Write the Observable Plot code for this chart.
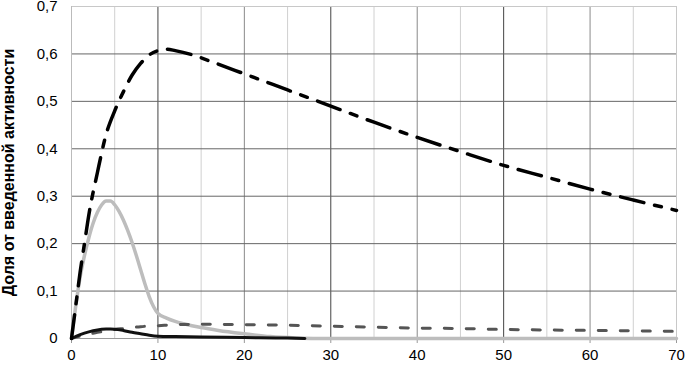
<!DOCTYPE html>
<html>
<head>
<meta charset="utf-8">
<script src="https://cdn.jsdelivr.net/npm/d3@7"></script>
<script src="https://cdn.jsdelivr.net/npm/@observablehq/plot@0.6"></script>
<style>
  html, body { margin: 0; padding: 0; background: #fff; }
  #chart svg { display: block; }
  g[aria-label="y-axis label"] text { font-weight: bold; font-size: 16px; }
</style>
</head>
<body>
<div id="chart"></div>
<script>
// Axis ticks
const xTicks = [0, 10, 20, 30, 40, 50, 60, 70];
const yTicks = [0, 0.1, 0.2, 0.3, 0.4, 0.5, 0.6, 0.7];
const xMinorGrid = [5, 15, 25, 35, 45, 55, 65];
const xGridDark = [10, 30, 50];
const xGridMid = [20, 40, 60];
const yGrid = [0.1, 0.2, 0.3, 0.4, 0.5, 0.6];
const yLabel = "Доля от введенной активности";

// Series: dash-dot black
const dashDotX = [0, 0.5, 1, 1.5, 2, 3, 4, 5, 6, 7, 8, 9, 10, 11, 12, 14, 16, 20, 25, 30, 35, 40, 45, 50, 55, 60, 65, 70];
const dashDotY = [0, 0.07, 0.14, 0.2, 0.26, 0.35, 0.43, 0.48, 0.52, 0.555, 0.58, 0.598, 0.607, 0.61, 0.607, 0.598, 0.585, 0.558, 0.524, 0.49, 0.456, 0.424, 0.394, 0.365, 0.34, 0.315, 0.292, 0.27];

// Series: light gray solid
const graySolidX = [0, 0.5, 1, 1.5, 2, 2.5, 3, 3.5, 4, 4.5, 5, 5.5, 6, 6.5, 7, 7.5, 8, 8.5, 9, 9.5, 10, 11, 12, 13, 15, 17, 20, 23, 26, 28, 70];
const graySolidY = [0, 0.07, 0.13, 0.175, 0.212, 0.243, 0.266, 0.282, 0.29, 0.29, 0.282, 0.268, 0.25, 0.228, 0.203, 0.175, 0.145, 0.115, 0.088, 0.067, 0.053, 0.043, 0.036, 0.031, 0.023, 0.017, 0.01, 0.004, 0.001, 0, 0];

// Series: black solid
const blackSolidX = [0, 1, 2, 3, 4, 4.5, 5, 6, 7, 8, 9, 10, 12, 15, 20, 25, 27];
const blackSolidY = [0, 0.008, 0.014, 0.018, 0.0198, 0.02, 0.0197, 0.017, 0.013, 0.01, 0.007, 0.005, 0.004, 0.003, 0.002, 0.001, 0];

// Series: dark gray dashed
const grayDashX = [0, 1, 2, 3, 4, 5, 6, 8, 10, 12, 15, 20, 25, 30, 35, 40, 45, 50, 55, 60, 65, 70];
const grayDashY = [0, 0.005, 0.009, 0.013, 0.016, 0.019, 0.021, 0.025, 0.027, 0.029, 0.03, 0.029, 0.028, 0.026, 0.024, 0.022, 0.021, 0.019, 0.018, 0.017, 0.016, 0.015];

const toRows = (xs, ys) => xs.map((x, i) => ({x, y: ys[i]}));
const fmt = d => String(Math.round(d * 10) / 10).replace(".", ",");

const chart = Plot.plot({
  width: 685,
  height: 368,
  marginLeft: 71,
  marginRight: 9,
  marginTop: 6,
  marginBottom: 30,
  style: {fontFamily: "'Liberation Sans', Arial, sans-serif", fontSize: "15px", color: "#000", background: "#fff"},
  x: {domain: [0, 70]},
  y: {domain: [0, 0.7]},
  marks: [
    Plot.ruleX(xMinorGrid, {stroke: "#d0d0d0", strokeWidth: 1}),
    Plot.ruleX(xGridMid, {stroke: "#8a8a8a", strokeWidth: 1}),
    Plot.ruleX(xGridDark, {stroke: "#444", strokeWidth: 1}),
    Plot.ruleX([70], {stroke: "#c8c8c8", strokeWidth: 1}),
    Plot.ruleY(yGrid, {stroke: "#666", strokeWidth: 1}),
    Plot.ruleY([0.7], {stroke: "#c8c8c8", strokeWidth: 1}),
    Plot.ruleX([0], {stroke: "#bbb", strokeWidth: 1}),
    Plot.ruleY([0], {stroke: "#999", strokeWidth: 1}),
    Plot.axisY({ticks: yTicks, tickSize: 0, tickPadding: 14, tickFormat: fmt, fontSize: 15,
      label: yLabel, labelAnchor: "center", labelArrow: "none", labelOffset: 69}),
    Plot.axisX({ticks: xTicks, tickSize: 5, tickPadding: 6, stroke: "#999", fontSize: 15, label: null, tickFormat: d => String(d)}),
    Plot.line(toRows(graySolidX, graySolidY), {x: "x", y: "y", stroke: "#bdbdbd", strokeWidth: 3.5, curve: "monotone-x"}),
    Plot.line(toRows(grayDashX, grayDashY), {x: "x", y: "y", stroke: "#555", strokeWidth: 3, strokeDasharray: "8,14", curve: "monotone-x"}),
    Plot.line(toRows(blackSolidX, blackSolidY), {x: "x", y: "y", stroke: "#111", strokeWidth: 3, curve: "monotone-x"}),
    Plot.line(toRows(dashDotX, dashDotY), {x: "x", y: "y", stroke: "#000", strokeWidth: 3.5, strokeDasharray: "24,11,7,11", curve: "monotone-x"})
  ]
});
document.getElementById("chart").appendChild(chart);
</script>
</body>
</html>
